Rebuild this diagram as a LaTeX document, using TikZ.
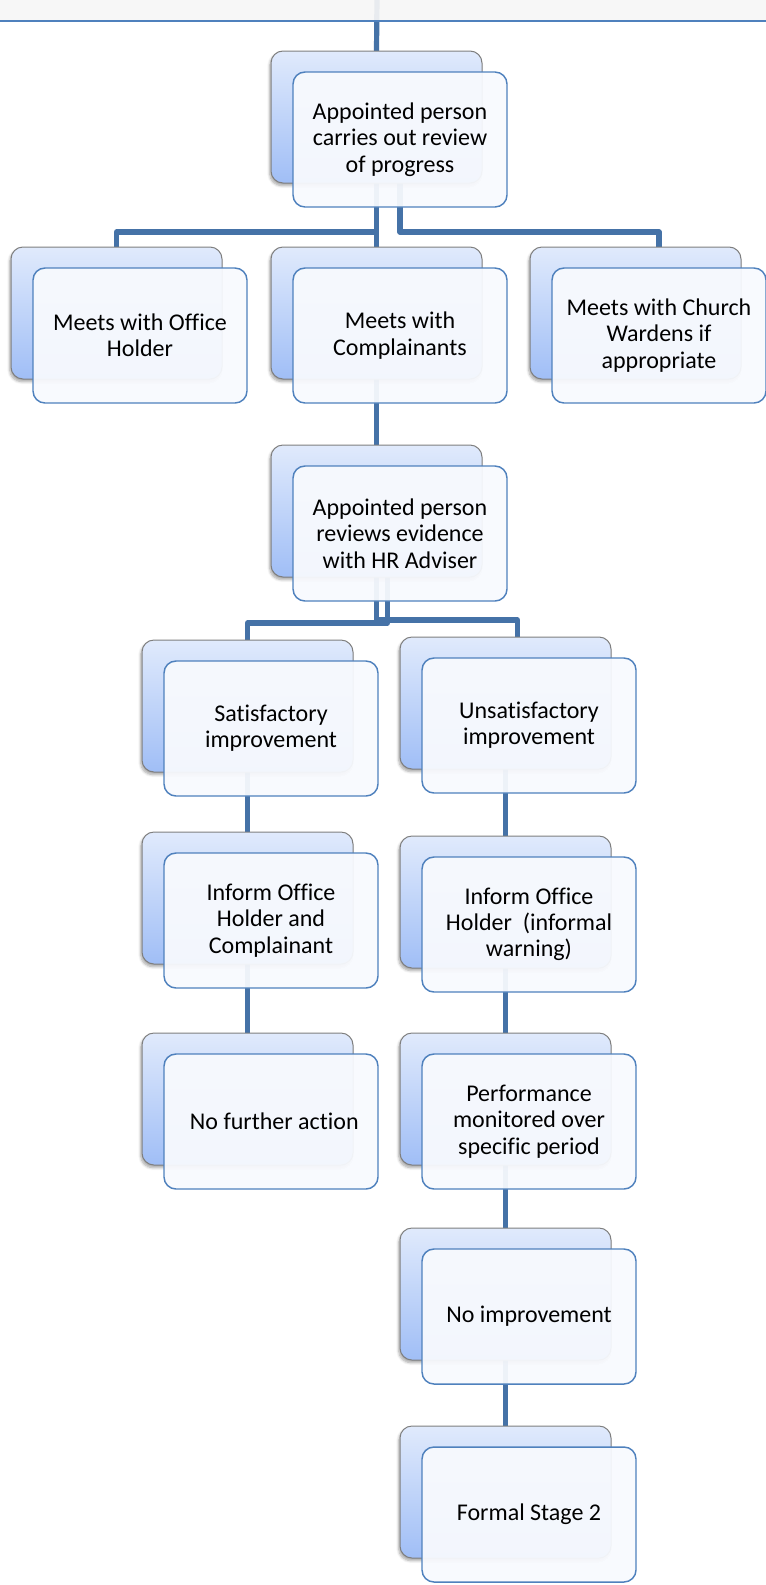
\documentclass[tikz,border=0pt]{standalone}
\usepackage{fontspec}
\setmainfont{Carlito}[Ligatures=NoCommon]
\usetikzlibrary{shadows.blur,calc}
\pgfdeclarelayer{background}
\pgfsetlayers{background,main}

\definecolor{linkblue}{HTML}{4572A7}
\definecolor{edgeblue}{HTML}{4F81BD}
\definecolor{cardtop}{HTML}{E0EAFC}
\definecolor{cardbot}{HTML}{A0BEF6}
\definecolor{cardface}{HTML}{F8FAFE}
\definecolor{cardrim}{HTML}{7F7F7F}
\definecolor{bandfill}{HTML}{F6F6F6}

\tikzset{
  backcard/.style={draw=cardrim, line width=0.75pt, rounded corners=9pt,
    top color=cardtop, bottom color=cardbot,
    minimum width=158.25pt, minimum height=99pt, inner sep=0pt, outer sep=0pt,
    anchor=north west,
    blur shadow={shadow xshift=-1pt, shadow yshift=-2pt, shadow opacity=35, shadow blur steps=6}},
  frontcard/.style={draw=edgeblue, line width=1.1pt, rounded corners=9pt,
    fill=cardface, fill opacity=0.94, text opacity=1,
    minimum width=160.5pt, minimum height=101.25pt, inner sep=0pt, outer sep=0pt,
    anchor=north west, align=center, font=\fontsize{18}{19.7}\selectfont},
  link/.style={draw=linkblue, line width=3.9pt, line join=round},
}

% a stacked card: shaded back panel plus translucent front panel carrying the text
\newcommand\flowcard[4]{%
  \node[backcard] (#1B) at (#2,#3) {};
  \node[frontcard] (#1F) at ({#2+22},{#3+21}) {#4};
}

\begin{document}
\begin{tikzpicture}[x=0.75pt, y=-0.75pt]
\useasboundingbox (0,0) rectangle (766,1585);

\flowcard{top}{271}{51}{Appointed person\\carries out review\\of progress}
\flowcard{office}{11}{247}{Meets with Office\\Holder}
\flowcard{compl}{271}{247}{Meets with\\Complainants}
\flowcard{church}{530}{247}{Meets with Church\\Wardens if\\appropriate}
\flowcard{hr}{271}{445}{Appointed person\\reviews evidence\\with HR Adviser}
\flowcard{sat}{142}{640}{Satisfactory\\improvement}
\flowcard{unsat}{400}{637}{Unsatisfactory\\improvement}
\flowcard{informA}{142}{832}{Inform Office\\Holder and\\Complainant}
\flowcard{informB}{400}{836}{Inform Office\\Holder\ \ (informal\\warning)}
\flowcard{nfa}{142}{1033}{\hspace*{5pt}No further action}
\flowcard{perf}{400}{1033}{Performance\\monitored over\\specific period}
\flowcard{noimp}{400}{1228}{No improvement}
\flowcard{stage}{400}{1426}{Formal Stage 2}

\coordinate (head) at (377,-2);
\coordinate (busA) at (0,232);
\coordinate (busR) at (0,620);
\coordinate (busL) at (0,623);

\begin{pgfonlayer}{background}
  \draw[link] (head) -- (topB.north);
  \draw[link] (topB.south) -- (topB.south |- busA) -| (officeB.north);
  \draw[link] (topB.south) -- (complB.north);
  \draw[link] (topF.center) -- (topF.center |- busA) -| (churchF.center);
  \draw[link] (complB.south) -- (hrB.north);
  \draw[link] (hrB.south) -- (hrB.south |- busR) -| ($(unsatB.north)+(12,0)$);
  \draw[link] ($(hrB.south)+(11,0)$) -- ($(hrB.south |- busL)+(11,0)$) -| (satB.north);
  \draw[link] (satB.south) -- (informAB.north);
  \draw[link] (informAB.south) -- (nfaB.north);
  \draw[link] (unsatB.south) -- (informBB.north);
  \draw[link] (informBB.south) -- (perfB.north);
  \draw[link] (perfB.south) -- (noimpB.north);
  \draw[link] (noimpB.south) -- (stageB.north);
\end{pgfonlayer}

% lower edge of the panel running in from above
\fill[bandfill, fill opacity=0.92] (0,-1) rectangle (766,21);
\draw[edgeblue, line width=1.5pt] (0,21) -- (766,21);
\end{tikzpicture}
\end{document}
